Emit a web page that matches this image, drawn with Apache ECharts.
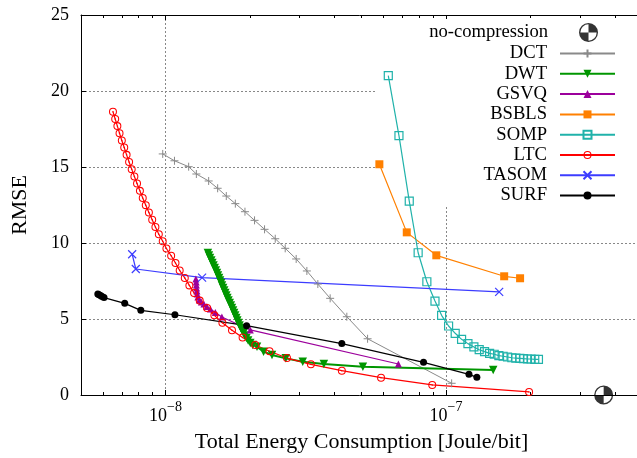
<!DOCTYPE html>
<html>
<head>
<meta charset="utf-8">
<script src="https://cdn.jsdelivr.net/npm/echarts@6/dist/echarts.min.js"></script>
<style>
  html, body { margin: 0; padding: 0; background: #fff; }
  #chart { width: 637px; height: 458px; }
</style>
</head>
<body>
<div id="chart"></div>
<script>
// Energy (Joule/bit) versus RMSE for each compression scheme
const noCompX = [3.65e-7];
const noCompY = [0];

const dctX = [9.78e-9, 1.077e-8, 1.210e-8, 1.289e-8, 1.426e-8, 1.535e-8, 1.648e-8, 1.775e-8, 1.921e-8, 2.078e-8,
              2.256e-8, 2.463e-8, 2.673e-8, 2.925e-8, 3.193e-8, 3.494e-8, 3.866e-8, 4.433e-8, 5.256e-8, 1.048e-7];
const dctY = [15.86, 15.41, 15.02, 14.54, 14.08, 13.60, 13.09, 12.59, 12.06, 11.49,
              10.90, 10.28, 9.65, 8.95, 8.16, 7.30, 6.36, 5.15, 3.70, 0.77];

const dwtX = [1.417e-8, 1.429e-8, 1.442e-8, 1.457e-8, 1.470e-8, 1.484e-8, 1.498e-8, 1.512e-8, 1.526e-8, 1.539e-8,
              1.553e-8, 1.566e-8, 1.580e-8, 1.591e-8, 1.606e-8, 1.620e-8, 1.635e-8, 1.648e-8, 1.663e-8, 1.678e-8,
              1.695e-8, 1.710e-8, 1.726e-8, 1.742e-8, 1.757e-8, 1.773e-8, 1.789e-8, 1.804e-8, 1.822e-8, 1.838e-8,
              1.857e-8, 1.877e-8, 1.898e-8, 1.920e-8, 1.944e-8, 1.971e-8, 2.007e-8, 2.048e-8, 2.120e-8, 2.238e-8,
              2.398e-8, 2.685e-8, 3.087e-8, 3.671e-8, 5.057e-8, 1.474e-7];
const dwtY = [9.34, 9.18, 9.01, 8.85, 8.68, 8.52, 8.36, 8.19, 8.03, 7.86,
              7.70, 7.53, 7.37, 7.20, 7.04, 6.88, 6.71, 6.55, 6.38, 6.22,
              6.05, 5.89, 5.72, 5.56, 5.40, 5.23, 5.07, 4.90, 4.74, 4.57,
              4.41, 4.24, 4.08, 3.91, 3.75, 3.59, 3.42, 3.29, 3.18, 2.85,
              2.63, 2.41, 2.19, 2.04, 1.86, 1.64];

const gsvqX = [1.284e-8, 1.287e-8, 1.289e-8, 1.291e-8, 1.295e-8, 1.298e-8, 1.305e-8, 1.321e-8, 1.343e-8, 1.371e-8,
               1.405e-8, 1.446e-8, 1.506e-8, 1.589e-8, 2.007e-8, 6.767e-8];
const gsvqY = [7.63, 7.43, 7.24, 7.04, 6.84, 6.64, 6.45, 6.25, 6.12, 5.99,
               5.82, 5.66, 5.43, 5.13, 4.28, 2.04];

const bsblsX = [5.79e-8, 7.25e-8, 9.24e-8, 1.613e-7, 1.838e-7];
const bsblsY = [15.18, 10.70, 9.19, 7.81, 7.68];

const sompX = [6.23e-8, 6.80e-8, 7.40e-8, 7.96e-8, 8.55e-8, 9.14e-8, 9.65e-8, 1.022e-7, 1.079e-7, 1.137e-7,
               1.198e-7, 1.258e-7, 1.314e-7, 1.373e-7, 1.431e-7, 1.486e-7, 1.544e-7, 1.599e-7, 1.658e-7, 1.718e-7,
               1.775e-7, 1.834e-7, 1.890e-7, 1.953e-7, 2.012e-7, 2.073e-7, 2.137e-7];
const sompY = [21.01, 17.06, 12.76, 9.36, 7.45, 6.18, 5.24, 4.54, 4.06, 3.66,
               3.38, 3.16, 2.98, 2.85, 2.74, 2.68, 2.59, 2.55, 2.50, 2.45,
               2.43, 2.41, 2.39, 2.37, 2.37, 2.35, 2.35];

const ltcX = [6.50e-9, 6.62e-9, 6.74e-9, 6.86e-9, 6.99e-9, 7.13e-9, 7.27e-9, 7.42e-9, 7.58e-9, 7.75e-9,
              7.92e-9, 8.11e-9, 8.30e-9, 8.51e-9, 8.73e-9, 8.97e-9, 9.21e-9, 9.47e-9, 9.78e-9, 1.008e-8,
              1.048e-8, 1.086e-8, 1.124e-8, 1.172e-8, 1.217e-8, 1.265e-8, 1.325e-8, 1.407e-8, 1.494e-8, 1.596e-8,
              1.727e-8, 1.884e-8, 2.091e-8, 2.350e-8, 2.712e-8, 3.300e-8, 4.255e-8, 5.870e-8, 8.937e-8, 1.979e-7];
const ltcY = [18.64, 18.16, 17.69, 17.22, 16.74, 16.28, 15.80, 15.33, 14.86, 14.38,
              13.91, 13.43, 12.96, 12.49, 12.01, 11.53, 11.05, 10.58, 10.11, 9.64,
              9.16, 8.68, 8.19, 7.70, 7.21, 6.71, 6.21, 5.72, 5.24, 4.75,
              4.26, 3.78, 3.29, 2.88, 2.43, 2.02, 1.60, 1.14, 0.66, 0.20];

const tasomX = [7.61e-9, 7.84e-9, 1.351e-8, 1.548e-7];
const tasomY = [9.26, 8.29, 7.72, 6.78];

const surfX = [5.74e-9, 5.80e-9, 5.87e-9, 5.94e-9, 6.04e-9, 7.16e-9, 8.17e-9, 1.081e-8, 1.947e-8, 4.254e-8,
               8.32e-8, 1.208e-7, 1.289e-7];
const surfY = [6.64, 6.60, 6.55, 6.48, 6.41, 6.03, 5.57, 5.28, 4.56, 3.38,
               2.15, 1.36, 1.16];

// axis ticks
const xMin = 5e-9, xMax = 5e-7;
const minorTicks = [6e-9, 7e-9, 8e-9, 9e-9, 2e-8, 3e-8, 4e-8, 5e-8, 6e-8, 7e-8, 8e-8, 9e-8, 2e-7, 3e-7, 4e-7];
const yTicks = [0, 5, 10, 15, 20, 25];

const FONT = "'Liberation Serif', 'Times New Roman', serif";

const SYM_PLUS = 'path://M0,5L10,5M5,0L5,10';
const SYM_CROSS = 'path://M0,0L10,10M10,0L0,10';
const SYM_DOT_RING = 'path://M5,0A5,5,0,1,1,5,10A5,5,0,1,1,5,0Z' +
  'M5,1.3A3.7,3.7,0,1,0,5,8.7A3.7,3.7,0,1,0,5,1.3Z' +
  'M5,4.1A0.9,0.9,0,1,1,5,5.9A0.9,0.9,0,1,1,5,4.1Z';
const SYM_QUARTERS = 'path://M10,0A10,10,0,1,1,10,20A10,10,0,1,1,10,0Z' +
  'M10,1.4A8.6,8.6,0,1,0,10,18.6A8.6,8.6,0,1,0,10,1.4Z' +
  'M10,10L10,1.4A8.6,8.6,0,0,1,18.6,10Z' +
  'M10,10L10,18.6A8.6,8.6,0,0,1,1.4,10Z';

function zip(xs, ys) { return xs.map((x, i) => [x, ys[i]]); }

function curve(name, xs, ys, color, symbol, size, opts) {
  opts = opts || {};
  return {
    name: name,
    type: 'line',
    data: zip(xs, ys),
    symbol: symbol,
    symbolSize: size,
    symbolRotate: opts.rotate || 0,
    showAllSymbol: true,
    clip: false,
    lineStyle: { color: color, width: opts.width || 1.2 },
    itemStyle: opts.itemStyle || { color: color, borderWidth: 0 },
    emphasis: { disabled: true },
    animation: false
  };
}

const chart = echarts.init(document.getElementById('chart'), null, { renderer: 'canvas' });

const tickLabel = v => {
  const e = Math.log10(v);
  const r = Math.round(e);
  if (Math.abs(e - r) > 1e-6) return '';
  return '{b|10}{s|' + (r < 0 ? '\u2212' + (-r) : r) + '}';
};

const legendText = { fontFamily: FONT, fontSize: 18.6, color: '#000', padding: [0, 8, 0, 0] };
const PLOT_W = 561;

chart.setOption({
  animation: false,
  backgroundColor: '#fff',
  textStyle: { fontFamily: FONT },
  grid: [
    { left: 81, top: 15, height: 380, width: PLOT_W, containLabel: false, outerBoundsMode: 'none' },
    { left: 81, top: 15, height: 380, width: PLOT_W, containLabel: false, outerBoundsMode: 'none' }
  ],
  graphic: [{
    type: 'rect', z: 1, silent: true,
    shape: { x: 375, y: 19, width: 262, height: 186 },
    style: { fill: '#fff' }
  }],
  legend: [
    {
      data: ['no-compression'],
      orient: 'vertical', align: 'right', right: 39, top: 23, padding: 0,
      itemWidth: 55, itemHeight: 19, symbolKeepAspect: true,
      selectedMode: false, textStyle: legendText
    },
    {
      data: ['DCT', 'DWT', 'GSVQ', 'BSBLS', 'SOMP', 'LTC', 'TASOM', 'SURF'],
      orient: 'vertical', align: 'right', right: 21, top: 44, padding: 0,
      itemWidth: 55, itemHeight: 10, itemGap: 1.3,
      selectedMode: false, textStyle: legendText
    }
  ],
  xAxis: [
    {
      gridIndex: 0, type: 'log', logBase: 10, min: xMin, max: xMax, position: 'bottom',
      name: 'Total Energy Consumption [Joule/bit]', nameLocation: 'middle', nameGap: 36,
      nameTextStyle: { fontFamily: FONT, fontSize: 22, color: '#000' },
      axisLine: { show: true, onZero: false, lineStyle: { color: '#000', width: 1 } },
      axisTick: { show: true, inside: true, length: 5, lineStyle: { color: '#000' } },
      axisLabel: {
        formatter: tickLabel, margin: 5, color: '#000',
        rich: {
          b: { fontFamily: FONT, fontSize: 18, lineHeight: 32, color: '#000' },
          s: { fontFamily: FONT, fontSize: 14, verticalAlign: 'top', color: '#000' }
        }
      },
      splitLine: { show: true, lineStyle: { color: '#888', type: [2, 2], width: 1 } }
    },
    {
      gridIndex: 0, type: 'log', logBase: 10, min: xMin, max: xMax, position: 'top',
      axisLine: { show: true, onZero: false, lineStyle: { color: '#000', width: 1 } },
      axisTick: { show: true, inside: true, length: 5, lineStyle: { color: '#000' } },
      axisLabel: { show: false },
      splitLine: { show: false }
    },
    {
      gridIndex: 1, type: 'log', logBase: 10, min: xMin, max: xMax, position: 'bottom',
      axisLine: { show: false, onZero: false },
      axisTick: { show: true, inside: true, length: 3, customValues: minorTicks, lineStyle: { color: '#000' } },
      axisLabel: { show: false },
      splitLine: { show: false }
    },
    {
      gridIndex: 1, type: 'log', logBase: 10, min: xMin, max: xMax, position: 'top',
      axisLine: { show: false, onZero: false },
      axisTick: { show: true, inside: true, length: 3, customValues: minorTicks, lineStyle: { color: '#000' } },
      axisLabel: { show: false },
      splitLine: { show: false }
    }
  ],
  yAxis: [
    {
      gridIndex: 0, type: 'value', min: yTicks[0], max: yTicks[yTicks.length - 1], interval: 5,
      name: 'RMSE', nameLocation: 'middle', nameGap: 50, nameRotate: 90,
      nameTextStyle: { fontFamily: FONT, fontSize: 22, color: '#000' },
      axisLine: { show: true, onZero: false, lineStyle: { color: '#000', width: 1 } },
      axisTick: { show: true, inside: true, length: 5, lineStyle: { color: '#000' } },
      axisLabel: { fontFamily: FONT, fontSize: 18, color: '#000', margin: 12 },
      splitLine: { show: true, lineStyle: { color: '#888', type: [2, 2], width: 1 } }
    },
    { gridIndex: 1, type: 'value', min: 0, max: 25, show: false }
  ],
  series: [
    {
      name: 'no-compression', type: 'scatter', data: zip(noCompX, noCompY),
      symbol: SYM_QUARTERS, symbolSize: 19, clip: false,
      itemStyle: { color: '#000', borderWidth: 0 },
      emphasis: { disabled: true }, z: 3
    },
    curve('DCT', dctX, dctY, '#8a8a8a', SYM_PLUS, 8,
      { width: 1, itemStyle: { color: '#8a8a8a', borderColor: '#8a8a8a', borderWidth: 1 } }),
    curve('DWT', dwtX, dwtY, '#009600', 'triangle', 8.5, { width: 2, rotate: 180 }),
    curve('GSVQ', gsvqX, gsvqY, '#9c009c', 'triangle', 7),
    curve('BSBLS', bsblsX, bsblsY, '#ff8000', 'rect', 8),
    curve('SOMP', sompX, sompY, '#20b2aa', 'rect', 8,
      { itemStyle: { color: 'rgba(255,255,255,0)', borderColor: '#20b2aa', borderWidth: 1.2 } }),
    curve('LTC', ltcX, ltcY, '#ff0000', SYM_DOT_RING, 8),
    curve('TASOM', tasomX, tasomY, '#3c3cff', SYM_CROSS, 8,
      { itemStyle: { color: '#3c3cff', borderColor: '#3c3cff', borderWidth: 1.2 } }),
    curve('SURF', surfX, surfY, '#000000', 'circle', 7)
  ]
});
</script>
</body>
</html>
